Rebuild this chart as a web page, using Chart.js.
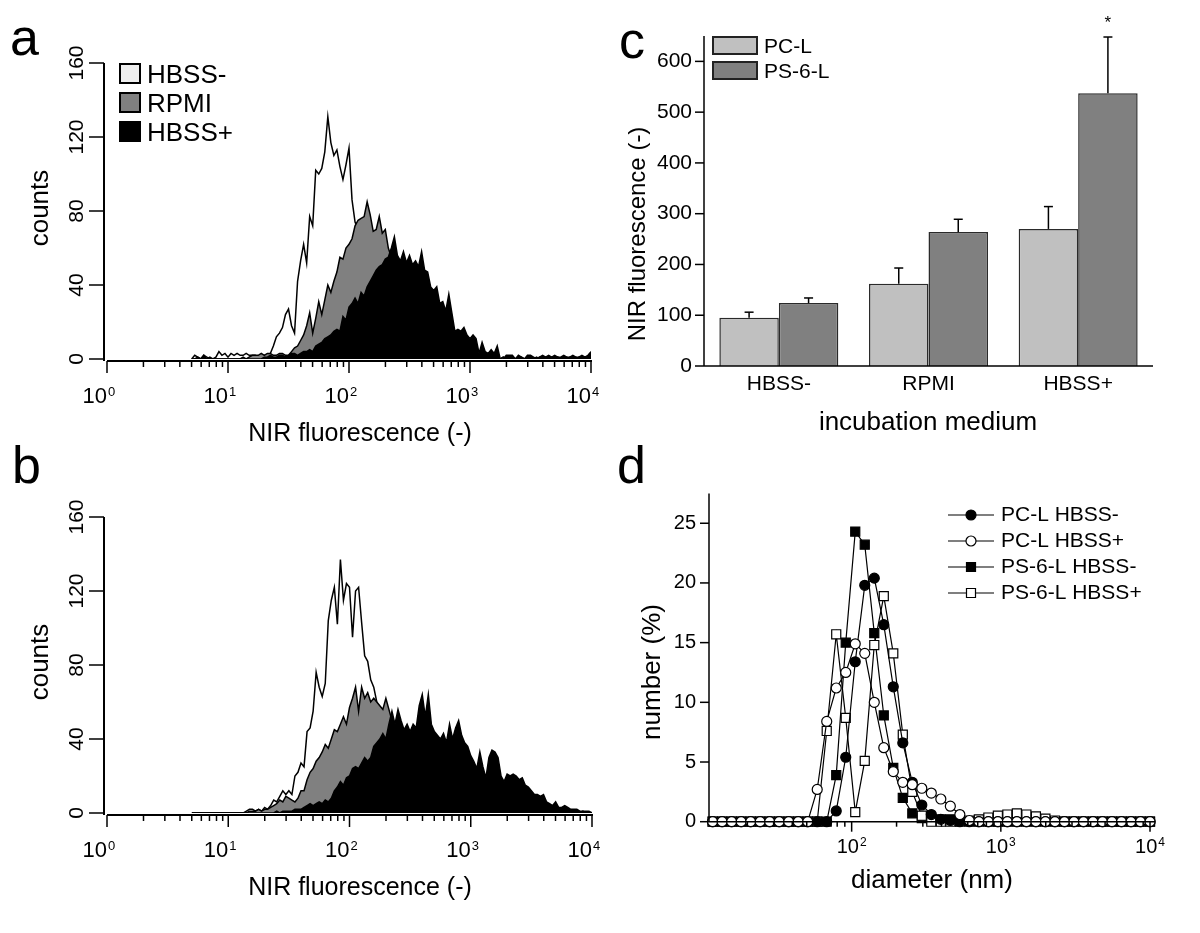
<!DOCTYPE html>
<html>
<head>
<meta charset="utf-8">
<title>NIR fluorescence of liposomes and size distribution</title>
<script src="https://cdn.jsdelivr.net/npm/chart.js@4.4.1/dist/chart.umd.min.js"></script>
<style>
  html, body { margin: 0; padding: 0; background: #fff; }
  #wrap { position: relative; width: 1200px; height: 933px; overflow: hidden; }
  #wrap canvas { position: absolute; left: 0; top: 0; }
</style>
</head>
<body>
<div id="wrap">
  <canvas id="panelA" width="1200" height="933"></canvas>
  <canvas id="panelB" width="1200" height="933"></canvas>
  <canvas id="panelC" width="1200" height="933"></canvas>
  <canvas id="panelD" width="1200" height="933"></canvas>
</div>
<script>
// ---------- data ----------

// flow cytometry channels: first channel (log10) and channel width (decades)
const chStart = 0.7;
const chStep = 0.025;

const histLabels = ["HBSS-", "RPMI", "HBSS+"];
const countTicks = [0, 40, 80, 120, 160];

// panel a, counts per channel
const aHbssMinus = [
  0, 2, 1, 0, 2, 1, 0, 0, 1, 4,
  2, 3, 1, 3, 2, 3, 2, 2, 3, 2,
  2, 2, 1, 2, 2, 2, 3, 7, 12, 14,
  17, 24, 27, 18, 14, 42, 53, 62, 52, 77,
  72, 102, 100, 103, 112, 131, 117, 110, 113, 104,
  97, 105, 114, 86, 74, 70, 64, 60, 54, 48,
  43, 38, 33, 28, 24, 20, 17, 14, 11, 9,
  7, 5, 4, 3, 3, 2, 2, 2, 1, 1,
  2, 1, 1, 0, 1, 1, 0, 1, 0, 1,
  1, 0, 1, 0, 0, 1, 0, 1, 0, 0,
  1, 0, 0, 1, 0, 0, 1, 0, 0, 1,
  0, 0, 1, 0, 0, 1, 0, 0, 1, 0,
  0, 1, 0, 0, 1, 0, 0, 1, 0, 0,
  1, 0, 1
];
const aRpmi = [
  0, 0, 0, 0, 0, 0, 0, 0, 0, 0,
  0, 0, 0, 0, 0, 0, 0, 1, 0, 1,
  2, 2, 2, 3, 2, 3, 3, 2, 2, 3,
  3, 2, 2, 4, 6, 7, 10, 13, 18, 25,
  14, 22, 31, 24, 32, 40, 36, 42, 47, 55,
  54, 60, 62, 65, 72, 75, 76, 77, 85, 78,
  69, 70, 77, 68, 70, 60, 55, 50, 45, 42,
  38, 35, 32, 29, 26, 23, 20, 17, 15, 13,
  11, 10, 8, 7, 6, 5, 4, 4, 3, 3,
  3, 2, 2, 2, 2, 1, 1, 1, 1, 1,
  1, 1, 0, 1, 0, 1, 0, 0, 1, 0,
  0, 1, 0, 0, 1, 0, 0, 0, 1, 0,
  0, 1, 0, 0, 0, 1, 0, 0, 1, 0,
  0, 1, 0
];
const aHbssPlus = [
  0, 0, 1, 0, 2, 0, 1, 0, 0, 0,
  0, 0, 0, 0, 0, 0, 0, 0, 0, 0,
  0, 0, 0, 0, 1, 1, 2, 1, 1, 2,
  2, 1, 2, 3, 3, 2, 3, 4, 4, 5,
  4, 7, 8, 9, 11, 12, 13, 15, 16, 15,
  23, 21, 28, 30, 33, 30, 36, 34, 39, 42,
  45, 48, 50, 51, 54, 55, 60, 66, 56, 53,
  58, 52, 56, 51, 53, 50, 58, 48, 47, 39,
  37, 39, 30, 31, 26, 35, 25, 15, 16, 15,
  17, 13, 11, 13, 11, 3, 9, 4, 3, 5,
  3, 7, 0, 0, 2, 2, 2, 0, 2, 1,
  0, 2, 2, 1, 0, 1, 2, 1, 2, 1,
  2, 1, 1, 2, 1, 1, 2, 1, 1, 2,
  1, 2, 4
];

// panel b, counts per channel
const bHbssMinus = [
  0, 0, 0, 0, 0, 0, 0, 0, 0, 0,
  0, 0, 0, 0, 0, 0, 0, 0, 1, 2,
  2, 1, 2, 1, 3, 2, 4, 7, 6, 9,
  12, 10, 12, 10, 20, 22, 27, 25, 44, 46,
  55, 76, 68, 63, 70, 104, 115, 122, 102, 137,
  115, 124, 122, 95, 120, 122, 103, 85, 82, 72,
  68, 60, 56, 48, 42, 38, 34, 30, 27, 24,
  21, 19, 17, 15, 13, 12, 10, 9, 8, 7,
  6, 5, 5, 4, 4, 3, 3, 3, 2, 2,
  2, 2, 1, 1, 1, 1, 1, 1, 0, 1,
  0, 1, 0, 1, 0, 0, 1, 0, 0, 1,
  0, 0, 1, 0, 0, 0, 1, 0, 0, 0,
  1, 0, 0, 0, 1, 0, 0, 0, 0, 1,
  0, 0, 0
];
const bRpmi = [
  0, 0, 0, 0, 0, 0, 0, 0, 0, 0,
  0, 0, 0, 0, 0, 0, 0, 0, 0, 1,
  1, 1, 2, 1, 2, 2, 3, 4, 5, 7,
  6, 9, 8, 7, 6, 8, 12, 12, 18, 22,
  24, 28, 30, 33, 37, 35, 40, 45, 44, 48,
  52, 48, 57, 62, 68, 55, 68, 62, 65, 60,
  62, 60, 58, 56, 62, 56, 50, 46, 42, 40,
  38, 35, 32, 30, 28, 26, 24, 22, 20, 18,
  17, 16, 15, 14, 13, 12, 11, 10, 9, 8,
  8, 7, 6, 6, 5, 5, 4, 4, 3, 3,
  3, 3, 2, 2, 2, 2, 2, 1, 1, 1,
  1, 1, 1, 1, 1, 1, 0, 1, 0, 1,
  0, 1, 0, 0, 1, 0, 0, 1, 0, 0,
  0, 0, 0
];
const bHbssPlus = [
  0, 0, 0, 0, 0, 0, 0, 0, 0, 0,
  0, 0, 0, 0, 0, 0, 0, 0, 0, 0,
  0, 0, 0, 0, 0, 0, 0, 0, 1, 0,
  1, 1, 1, 1, 2, 2, 2, 3, 4, 5,
  4, 5, 6, 5, 7, 6, 8, 12, 14, 17,
  15, 19, 20, 24, 25, 24, 27, 30, 28, 30,
  36, 38, 40, 43, 40, 48, 55, 48, 56, 50,
  45, 48, 44, 48, 46, 58, 64, 52, 64, 48,
  44, 42, 40, 43, 38, 48, 40, 46, 50, 42,
  38, 36, 31, 28, 24, 33, 25, 19, 30, 34,
  33, 30, 20, 17, 21, 20, 21, 20, 18, 19,
  15, 14, 12, 10, 10, 9, 10, 6, 5, 4,
  6, 3, 3, 4, 3, 2, 2, 2, 1, 1,
  1, 1, 0
];

// panel c, mean NIR fluorescence and SD
const media = ["HBSS-", "RPMI", "HBSS+"];
const pcL = [95, 162, 270];
const pcLErr = [11, 31, 44];
const ps6L = [124, 264, 537];
const ps6LErr = [10, 25, 111];
const fluorTicks = [0, 100, 200, 300, 400, 500, 600];

// panel d, DLS size classes (nm) and number distribution (%)
const sizesNm = [
  11.7, 13.54, 15.69, 18.17, 21.04, 24.36, 28.21, 32.67, 37.84, 43.82,
  50.75, 58.77, 68.06, 78.82, 91.28, 105.7, 122.4, 141.8, 164.2, 190.1,
  220.2, 255.0, 295.3, 342.0, 396.1, 458.7, 531.2, 615.1, 712.4, 825.0,
  955.4, 1106, 1281, 1484, 1718, 1990, 2305, 2669, 3091, 3580,
  4145, 4801, 5560, 6439, 7456, 8635, 10000
];
const pcLMinus = [
  0, 0, 0, 0, 0, 0, 0, 0, 0, 0,
  0, 0, 0, 0.9, 5.4, 13.4, 19.8, 20.4, 16.5, 11.3,
  6.6, 3.3, 1.4, 0.6, 0.2, 0.1, 0, 0, 0, 0,
  0, 0, 0, 0, 0, 0, 0, 0, 0, 0,
  0, 0, 0, 0, 0, 0, 0
];
const pcLPlus = [
  0, 0, 0, 0, 0, 0, 0, 0, 0, 0,
  0, 2.7, 8.4, 11.2, 12.5, 14.9, 14.1, 10.0, 6.2, 4.2,
  3.3, 3.1, 2.8, 2.4, 1.9, 1.3, 0.6, 0.1, 0, 0,
  0, 0, 0, 0, 0, 0, 0, 0, 0, 0,
  0, 0, 0, 0, 0, 0, 0
];
const ps6LMinus = [
  0, 0, 0, 0, 0, 0, 0, 0, 0, 0,
  0, 0, 0, 3.9, 15.0, 24.3, 23.2, 15.8, 8.9, 4.5,
  2.0, 0.7, 0.3, 0.2, 0.2, 0.2, 0.1, 0, 0, 0,
  0, 0, 0, 0, 0, 0, 0, 0, 0, 0,
  0, 0, 0, 0, 0, 0, 0
];
const ps6LPlus = [
  0, 0, 0, 0, 0, 0, 0, 0, 0, 0,
  0, 0, 7.6, 15.7, 8.7, 0.8, 5.1, 14.8, 18.9, 14.1,
  7.3, 2.5, 0.5, 0, 0, 0, 0, 0.1, 0.2, 0.35,
  0.5, 0.6, 0.7, 0.6, 0.45, 0.25, 0.1, 0, 0, 0,
  0, 0, 0, 0, 0, 0, 0
];
const numberTicks = [0, 5, 10, 15, 20, 25];


// ---------- drawing helpers ----------
const FONT = '"Liberation Sans", Arial, Helvetica, sans-serif';

function label(ctx, s, x, y, size, align = "left", base = "alphabetic", rot = 0) {
  ctx.save();
  ctx.font = `${size}px ${FONT}`;
  ctx.fillStyle = "#000";
  ctx.textAlign = align;
  ctx.textBaseline = base;
  ctx.translate(x, y);
  if (rot) ctx.rotate(rot);
  ctx.fillText(s, 0, 0);
  ctx.restore();
}

function line(ctx, x1, y1, x2, y2, w = 1.5) {
  ctx.save();
  ctx.strokeStyle = "#000";
  ctx.lineWidth = w;
  ctx.beginPath();
  ctx.moveTo(x1, y1);
  ctx.lineTo(x2, y2);
  ctx.stroke();
  ctx.restore();
}

// "10" with a raised exponent
function powLabel(ctx, exp, x, y, size, supSize, centered) {
  ctx.save();
  ctx.font = `${size}px ${FONT}`;
  const w10 = ctx.measureText("10").width;
  ctx.font = `${supSize}px ${FONT}`;
  const wExp = ctx.measureText(String(exp)).width;
  ctx.restore();
  const x0 = centered ? x - (w10 + wExp + 1) / 2 : x - w10;
  label(ctx, "10", x0, y, size);
  label(ctx, String(exp), x0 + w10 + 1, y - size * 0.33, supSize);
}

// 1..9 x 10^e inside [min, max]
function logTicks(min, max) {
  const out = [];
  for (let e = Math.floor(Math.log10(min)); e <= Math.ceil(Math.log10(max)); e++) {
    for (let m = 1; m <= 9; m++) {
      const v = m * Math.pow(10, e);
      if (v >= min * 0.999 && v <= max * 1.001) out.push({ v, e, major: m === 1 });
    }
  }
  return out;
}

function marker(ctx, style, fill, x, y) {
  ctx.save();
  ctx.fillStyle = fill;
  ctx.strokeStyle = "#000";
  ctx.lineWidth = 1.2;
  ctx.beginPath();
  if (style === "circle") ctx.arc(x, y, 5, 0, Math.PI * 2);
  else ctx.rect(x - 4.5, y - 4.5, 9, 9);
  ctx.fill();
  ctx.stroke();
  ctx.restore();
}

function baseOptions(area, scales) {
  return {
    responsive: false,
    animation: false,
    devicePixelRatio: 1,
    events: [],
    layout: {
      autoPadding: false,
      padding: { left: area.l, top: area.t, right: 1200 - area.r, bottom: 933 - area.b }
    },
    plugins: { legend: { display: false }, tooltip: { enabled: false } },
    scales
  };
}


// ---------- panels a and b: histograms ----------
const histFills = ["#ffffff", "#808080", "#000000"];
const legendFills = ["#eeeeee", "#808080", "#000000"];

function toPoints(counts) {
  return counts.map((c, i) => ({ x: Math.pow(10, chStart + i * chStep), y: c }));
}

function histDeco(letter, lx, ly, withLegend) {
  return {
    id: "histDeco" + letter,
    afterDraw(chart) {
      const { ctx, chartArea: ca, scales: { x, y } } = chart;
      const axisY = ca.bottom + 2;
      const axisX = ca.left - 3;

      line(ctx, axisX, y.getPixelForValue(160), axisX, axisY, 2);
      line(ctx, ca.left, axisY, ca.right + 1, axisY, 2);

      countTicks.forEach(v => {
        const py = y.getPixelForValue(v);
        line(ctx, axisX - 15, py, axisX, py, 1.5);
        label(ctx, String(v), axisX - 21, py, 21, "center", "alphabetic", -Math.PI / 2);
      });

      logTicks(1, 10000).forEach(t => {
        const px = x.getPixelForValue(t.v);
        line(ctx, px, axisY, px, axisY + (t.major ? 12 : 6), 1.5);
        if (t.major) powLabel(ctx, t.e, px, ca.bottom + 44, 22, 13, false);
      });

      label(ctx, "NIR fluorescence (-)", 360, ca.bottom + 82, 25, "center");
      label(ctx, "counts", 48, (ca.top + ca.bottom) / 2 - 3, 26, "center", "alphabetic", -Math.PI / 2);
      label(ctx, letter, lx, ly, 52);

      if (withLegend) {
        histLabels.forEach((name, k) => {
          const top = ca.top + 29 * k;
          ctx.save();
          ctx.fillStyle = legendFills[k];
          ctx.strokeStyle = "#000";
          ctx.lineWidth = 2;
          ctx.fillRect(120, top + 1, 20, 19);
          ctx.strokeRect(120, top + 1, 20, 19);
          ctx.restore();
          label(ctx, name, 147, top + 20, 26);
        });
      }
    }
  };
}

function histChart(id, series, area, deco) {
  return new Chart(document.getElementById(id), {
    type: "line",
    data: {
      datasets: series.map((s, k) => ({
        label: histLabels[k],
        data: toPoints(s),
        fill: "origin",
        backgroundColor: histFills[k],
        borderColor: "#000",
        borderWidth: 1.5,
        pointRadius: 0,
        tension: 0,
        order: 3 - k
      }))
    },
    options: baseOptions(area, {
      x: { type: "logarithmic", min: 1, max: 10000, display: false },
      y: { type: "linear", min: 0, max: 160, display: false }
    }),
    plugins: [deco]
  });
}

histChart("panelA", [aHbssMinus, aRpmi, aHbssPlus],
  { l: 107, t: 63, r: 591, b: 359 }, histDeco("a", 10, 55, true));
histChart("panelB", [bHbssMinus, bRpmi, bHbssPlus],
  { l: 107, t: 517, r: 592, b: 813 }, histDeco("b", 12, 483, false));


// ---------- panel c: bars with SD ----------
const barDeco = {
  id: "barDeco",
  afterDraw(chart) {
    const { ctx, chartArea: ca, scales: { x, y } } = chart;

    [pcLErr, ps6LErr].forEach((errs, i) => {
      const vals = chart.data.datasets[i].data;
      chart.getDatasetMeta(i).data.forEach((bar, j) => {
        const top = y.getPixelForValue(vals[j] + errs[j]);
        line(ctx, bar.x, bar.y, bar.x, top, 1.5);
        line(ctx, bar.x - 4.5, top, bar.x + 4.5, top, 1.5);
      });
    });

    // significance mark
    const star = chart.getDatasetMeta(1).data[2];
    label(ctx, "*", star.x, y.getPixelForValue(ps6L[2] + ps6LErr[2]) - 9, 17, "center");

    line(ctx, ca.left, ca.top, ca.left, ca.bottom, 1.5);
    line(ctx, ca.left, ca.bottom, ca.right, ca.bottom, 1.5);

    fluorTicks.forEach(v => {
      const py = y.getPixelForValue(v);
      line(ctx, ca.left - 9, py, ca.left, py, 1.5);
      label(ctx, String(v), ca.left - 12, py, 21, "right", "middle");
    });
    media.forEach((m, j) => label(ctx, m, x.getPixelForValue(j), ca.bottom + 24, 21, "center"));

    label(ctx, "incubation medium", 928, 430, 26, "center");
    label(ctx, "NIR fluorescence (-)", 645, 234, 24, "center", "alphabetic", -Math.PI / 2);
    label(ctx, "c", 619, 58, 52);

    // legend
    [["PC-L", "#c0c0c0"], ["PS-6-L", "#808080"]].forEach(([name, col], k) => {
      const top = 37 + 25 * k;
      ctx.save();
      ctx.fillStyle = col;
      ctx.strokeStyle = "#222";
      ctx.lineWidth = 2;
      ctx.fillRect(713, top, 44, 17);
      ctx.strokeRect(713, top, 44, 17);
      ctx.restore();
      label(ctx, name, 764, top + 16, 21);
    });
  }
};

new Chart(document.getElementById("panelC"), {
  type: "bar",
  data: {
    labels: media,
    datasets: [
      { label: "PC-L", data: pcL, backgroundColor: "#c0c0c0", borderColor: "#2a2a2a", borderWidth: 1.5 },
      { label: "PS-6-L", data: ps6L, backgroundColor: "#808080", borderColor: "#2a2a2a", borderWidth: 1.5 }
    ]
  },
  options: Object.assign(baseOptions({ l: 704, t: 36, r: 1153, b: 366 }, {
    x: { type: "category", display: false },
    y: { type: "linear", min: 0, max: 650, display: false }
  }), {
    datasets: { bar: { categoryPercentage: 0.795, barPercentage: 1.0 } }
  }),
  plugins: [barDeco]
});


// ---------- panel d: size distribution ----------
const dSeries = [
  { name: "PC-L HBSS-", vals: pcLMinus, style: "circle", fill: "#000", order: 1 },
  { name: "PC-L HBSS+", vals: pcLPlus, style: "circle", fill: "#fff", order: 0 },
  { name: "PS-6-L HBSS-", vals: ps6LMinus, style: "rect", fill: "#000", order: 3 },
  { name: "PS-6-L HBSS+", vals: ps6LPlus, style: "rect", fill: "#fff", order: 2 }
];
const dMin = 11.06;
const dMax = 10800;

const sizeDeco = {
  id: "sizeDeco",
  afterDraw(chart) {
    const { ctx, chartArea: ca, scales: { x, y } } = chart;

    line(ctx, ca.left, ca.top, ca.left, ca.bottom, 1.5);
    line(ctx, ca.left, ca.bottom, ca.right, ca.bottom, 1.5);

    numberTicks.forEach(v => {
      const py = y.getPixelForValue(v);
      line(ctx, ca.left - 9, py, ca.left, py, 1.5);
      label(ctx, String(v), ca.left - 13, py, 20, "right", "middle");
    });
    logTicks(dMin, dMax).forEach(t => {
      const px = x.getPixelForValue(t.v);
      line(ctx, px, ca.bottom, px, ca.bottom + (t.major ? 10 : 5), 1.5);
      if (t.major) powLabel(ctx, t.e, px, ca.bottom + 31, 20, 12, true);
    });

    label(ctx, "diameter (nm)", 932, 888, 26, "center");
    label(ctx, "number (%)", 660, 672, 26, "center", "alphabetic", -Math.PI / 2);
    label(ctx, "d", 617, 483, 52);

    dSeries.forEach((s, k) => {
      const ly = 515 + 26 * k;
      line(ctx, 948, ly, 994, ly, 1.2);
      marker(ctx, s.style, s.fill, 971, ly);
      label(ctx, s.name, 1001, ly, 21, "left", "middle");
    });
  }
};

new Chart(document.getElementById("panelD"), {
  type: "line",
  data: {
    datasets: dSeries.map(s => ({
      label: s.name,
      data: sizesNm.map((d, i) => ({ x: d, y: s.vals[i] })),
      borderColor: "#000",
      borderWidth: 1.2,
      tension: 0,
      fill: false,
      pointStyle: s.style,
      pointRadius: s.style === "circle" ? 5 : 6.4,
      pointBackgroundColor: s.fill,
      pointBorderColor: "#000",
      pointBorderWidth: 1.2,
      clip: false,
      order: s.order
    }))
  },
  options: baseOptions({ l: 709, t: 493.4, r: 1155, b: 821.7 }, {
    x: { type: "logarithmic", min: dMin, max: dMax, display: false },
    y: { type: "linear", min: 0, max: 27.5, display: false }
  }),
  plugins: [sizeDeco]
});
</script>
</body>
</html>
